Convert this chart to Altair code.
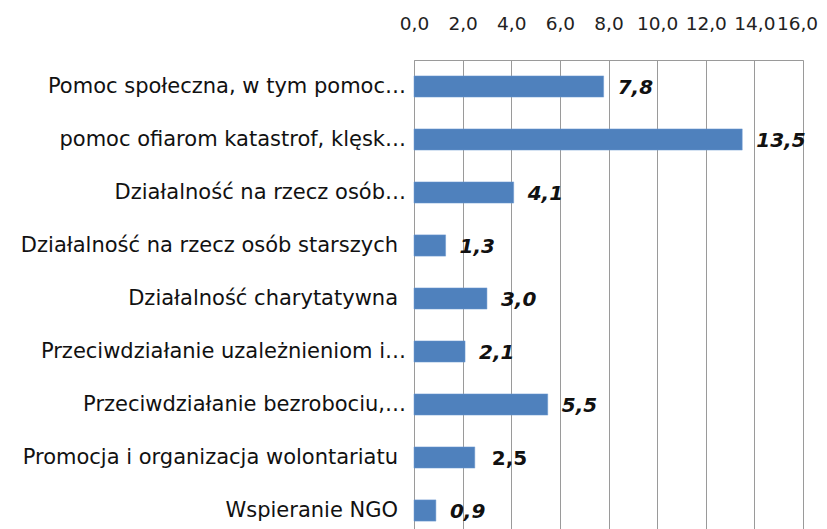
import altair as alt
import pandas as pd

categories = [
    "Pomoc społeczna, w tym pomoc…",
    "pomoc ofiarom katastrof, klęsk…",
    "Działalność na rzecz osób…",
    "Działalność na rzecz osób starszych",
    "Działalność charytatywna",
    "Przeciwdziałanie uzależnieniom i…",
    "Przeciwdziałanie bezrobociu,…",
    "Promocja i organizacja wolontariatu",
    "Wspieranie NGO",
]
values = [7.8, 13.5, 4.1, 1.3, 3.0, 2.1, 5.5, 2.5, 0.9]
value_labels = ["7,8", "13,5", "4,1", "1,3", "3,0", "2,1", "5,5", "2,5", "0,9"]
label_styles = ["italic", "italic", "italic", "italic", "italic", "italic", "italic", "normal", "italic"]
x_ticks = [0, 2, 4, 6, 8, 10, 12, 14, 16]

df = pd.DataFrame({"cat": categories, "val": values, "lab": value_labels, "sty": label_styles})

y_enc = alt.Y("cat:N", sort=categories, title=None,
              scale=alt.Scale(paddingInner=0.6, paddingOuter=0.3),
              axis=alt.Axis(labels=False, ticks=False, domainColor="#9a9a9a", grid=False))
x_enc = alt.X("val:Q", title=None,
              scale=alt.Scale(domain=[0, 16], nice=False),
              axis=alt.Axis(orient="top", values=x_ticks,
                            labelExpr="replace(format(datum.value, '.1f'), '.', ',')",
                            labelFont="DejaVu Sans", labelFontSize=18.5, labelColor="#222222",
                            labelPadding=27, ticks=False, domainColor="#9a9a9a",
                            gridColor="#9a9a9a", gridWidth=1, labelFlush=False,
                            labelOffset={"condition": {"test": "datum.value == 16", "value": -6},
                                         "value": 0}))

base = alt.Chart(df)
bars = base.mark_bar(color="#4F81BD", stroke="#6f9ad0", strokeWidth=0.5).encode(
    x=x_enc, y=y_enc)

ycat = alt.Y("cat:N", sort=categories)

cat_trunc = base.transform_filter("indexof(datum.cat, '…') >= 0").mark_text(
    align="right", baseline="middle", dx=-8, font="DejaVu Sans", fontSize=21,
    color="#111111").encode(x=alt.value(0), y=ycat, text="cat:N")

cat_full = base.transform_filter("indexof(datum.cat, '…') < 0").mark_text(
    align="right", baseline="middle", dx=-16, font="DejaVu Sans", fontSize=21,
    color="#111111").encode(x=alt.value(0), y=ycat, text="cat:N")

text_italic = base.transform_filter("datum.sty == 'italic'").mark_text(
    align="left", dx=14, dy=1, font="DejaVu Sans", fontSize=20, fontWeight="bold",
    fontStyle="italic", color="#111111").encode(
    x="val:Q", y=ycat, text="lab:N")

text_normal = base.transform_filter("datum.sty == 'normal'").mark_text(
    align="left", dx=17, dy=1, font="DejaVu Sans", fontSize=20, fontWeight="bold",
    color="#111111").encode(
    x="val:Q", y=ycat, text="lab:N")

chart = (bars + cat_trunc + cat_full + text_italic + text_normal).properties(
    width=389, height=477,
    autosize=alt.AutoSizeParams(type="none"),
    padding={"left": 406, "top": 52, "right": 15, "bottom": 0},
).configure_view(stroke="#9a9a9a", strokeWidth=1).configure(background="white")

chart.save("out.html", embed_options={"renderer": "svg", "actions": False})
